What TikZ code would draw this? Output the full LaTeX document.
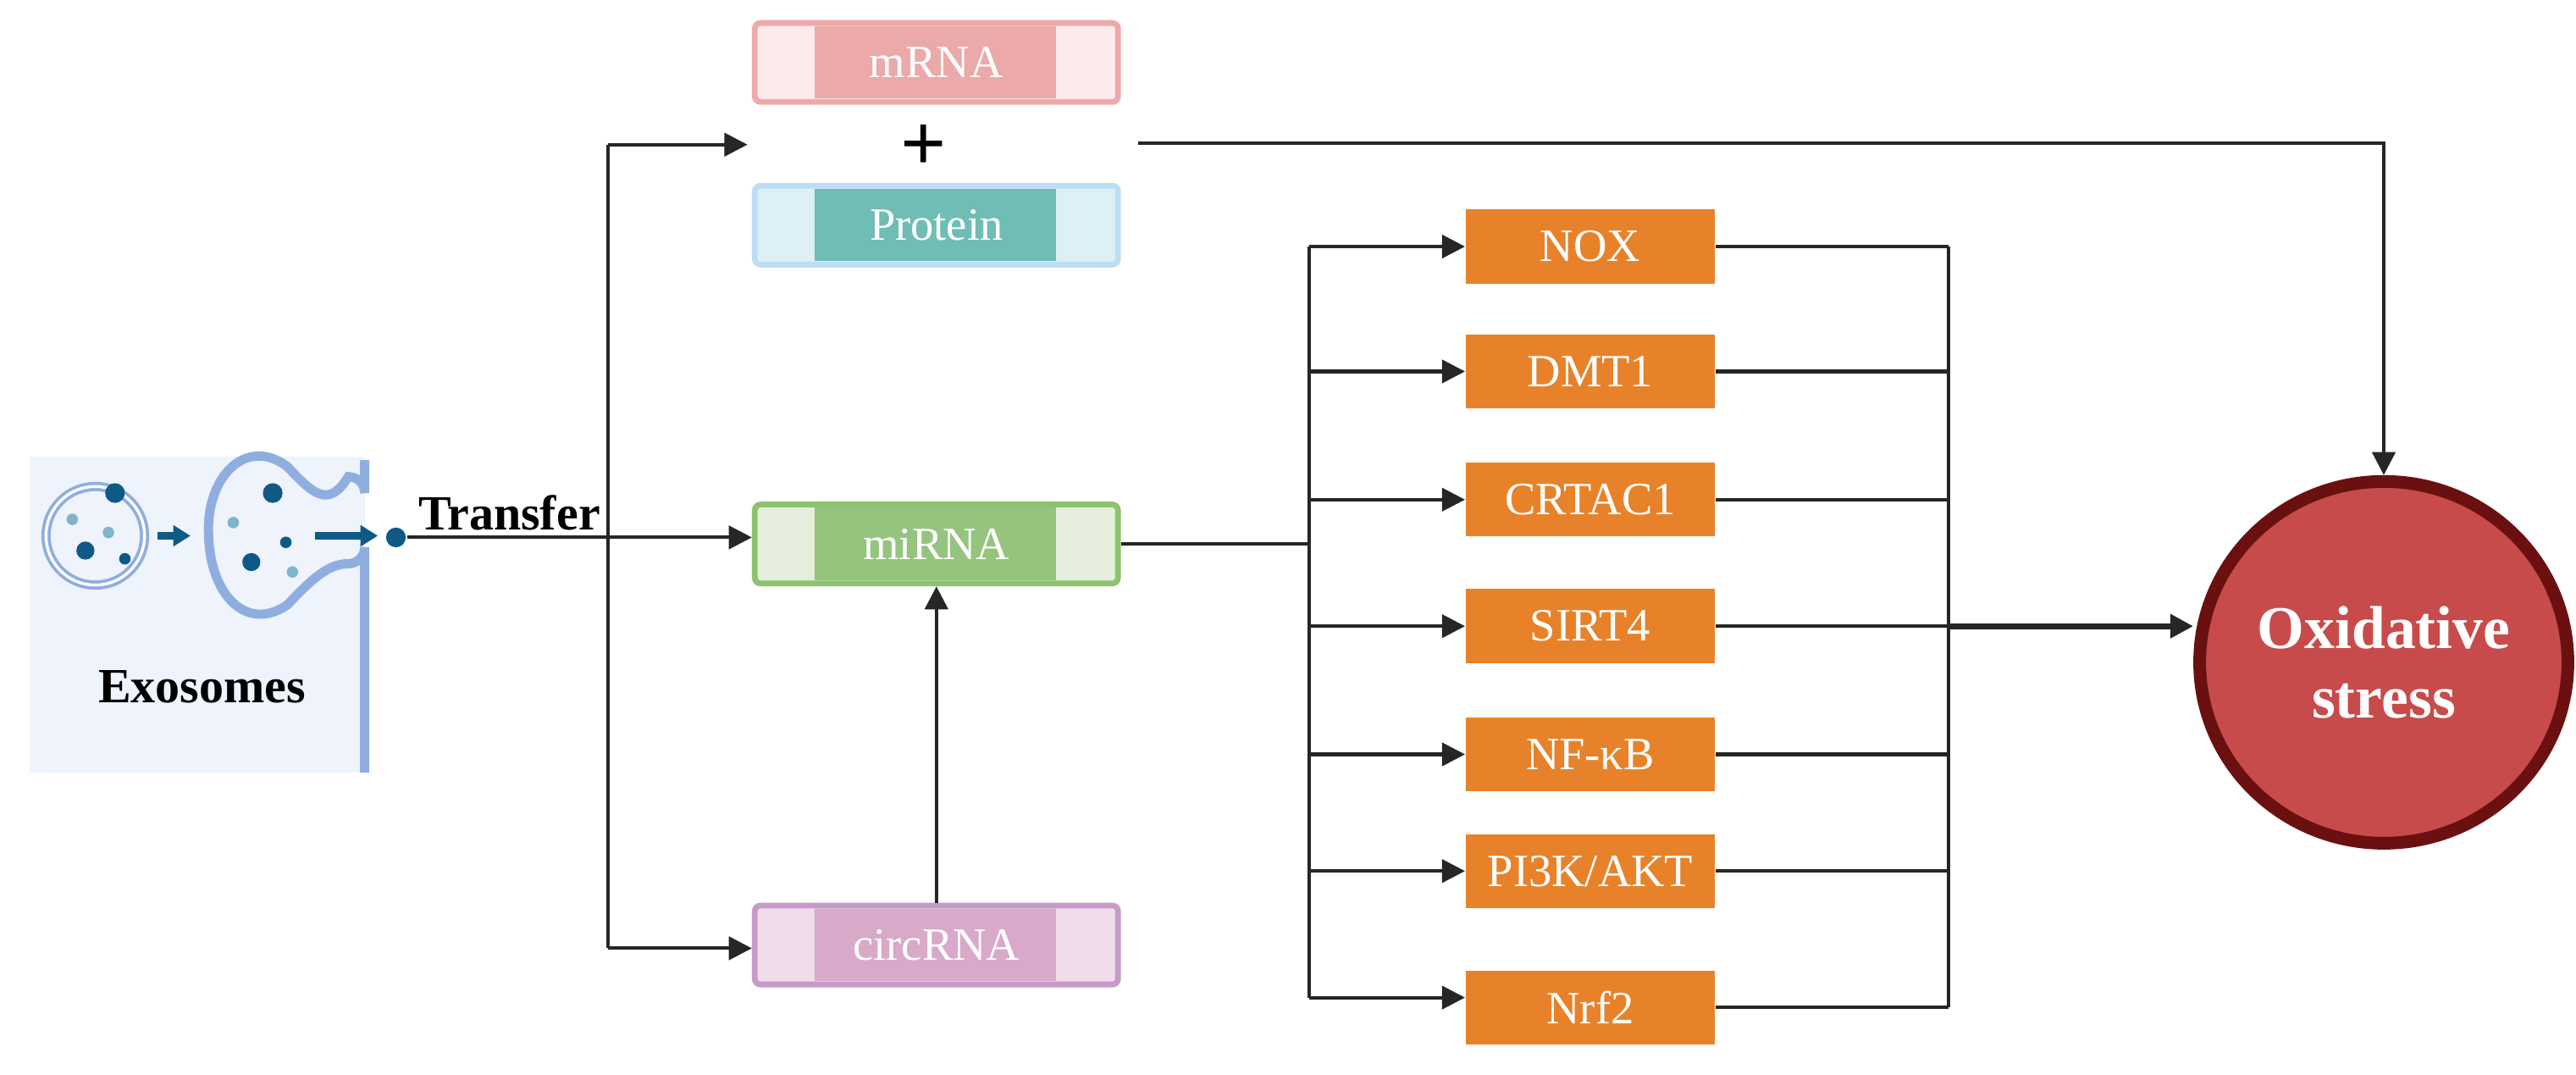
\documentclass[tikz,border=0pt]{standalone}
\usepackage{fontspec}
\setmainfont{Liberation Serif}
\usetikzlibrary{arrows.meta,shapes.geometric}
\definecolor{org}{HTML}{E8822A}
\definecolor{ox}{HTML}{C84B4B}
\definecolor{oxb}{HTML}{6B1010}
\definecolor{memb}{HTML}{8FAEE0}
\definecolor{dk}{HTML}{0E5A85}
\definecolor{lt}{HTML}{7FB5CC}
\definecolor{bgb}{HTML}{EEF3FC}
\begin{document}
\begin{tikzpicture}[x=0.01cm,y=-0.01cm,
 ln/.style={line width=0.6pt,draw=black!85},
 ar/.style={ln,-{Triangle[length=4pt,width=4pt]}},
 ob/.style={fill=org,minimum width=1.51cm,minimum height=0.45cm,inner sep=0,text=white,font=\fontsize{8}{9}\selectfont},
 lab/.style={font=\bfseries\fontsize{8.5}{10}\selectfont}]
\useasboundingbox (0,0) rectangle (1568,654);
% exosome icon
\fill[bgb] (18,278) rectangle (222,470);
\draw[memb,line width=1.6pt] (58,326) circle (30);
\draw[white,line width=0.5pt] (58,326) circle (30);
\fill[dk] (70,300) circle (6); \fill[dk] (52,335) circle (5.5); \fill[dk] (76,340) circle (3.5);
\fill[lt] (44,316) circle (3.5); \fill[lt] (66,324) circle (3.5);
\draw[dk,line width=1.2pt,-{Triangle[length=3pt,width=3.5pt]}] (96,326) -- (116,326);
\draw[memb,line width=1.6pt] (222,280) -- (222,300) arc (0:-90:10) .. controls (200,310) and (190,300) .. (175,284)
  .. controls (150,265) and (125,290) .. (127,326) .. controls (128,362) and (150,385) .. (175,368)
  .. controls (190,352) and (200,343) .. (212,343) arc (90:0:10) -- (222,470);
\fill[dk] (166,300) circle (6); \fill[dk] (153,342) circle (5.5); \fill[dk] (174,330) circle (3.5);
\fill[lt] (142,318) circle (3.5); \fill[lt] (178,348) circle (3.5);
\draw[dk,line width=1.2pt,-{Triangle[length=3pt,width=3.5pt]}] (192,326) -- (230,326);
\node[fill=dk,circle,inner sep=0,minimum size=0.12cm] (dot) at (241,327) {};
\node[lab] (tr) at (310,312) {Transfer};
\node[lab] (exo) at (123,418) {Exosomes};
% RNA boxes
\newcommand{\rbox}[6]{%
 \node[draw=#4,fill=#3,line width=1pt,rounded corners=1pt,minimum width=2.21cm,minimum height=0.48cm,inner sep=0] (#1) at (570,#2) {};
 \fill[#5] (496,#2-22) rectangle (643,#2+22);
 \node[text=white,font=\fontsize{8}{9}\selectfont] at (#1) {#6};}
\definecolor{c1}{HTML}{FDEBEC}\definecolor{c2}{HTML}{EEA9AA}\definecolor{c3}{HTML}{EBA9AA}
\definecolor{p1}{HTML}{DDF0F5}\definecolor{p2}{HTML}{BEDDF5}\definecolor{p3}{HTML}{6FBDB5}
\definecolor{g1}{HTML}{E5EEDD}\definecolor{g2}{HTML}{8CC46E}\definecolor{g3}{HTML}{94C47D}
\definecolor{q1}{HTML}{F0DCEB}\definecolor{q2}{HTML}{C79BC7}\definecolor{q3}{HTML}{D8A9C9}
\rbox{mrna}{38}{c1}{c2}{c3}{mRNA}
\rbox{prot}{137}{p1}{p2}{p3}{Protein}
\rbox{mirna}{331}{g1}{g2}{g3}{miRNA}
\rbox{circ}{575}{q1}{q2}{q3}{circRNA}
\node[font=\bfseries\fontsize{14}{14}\selectfont] (plus) at (562,90) {+};
\coordinate (pl) at (455,88);
\coordinate (pr) at (693,87);
% ellipse
\node[draw=oxb,fill=ox,line width=2.2pt,ellipse,minimum width=2.24cm,minimum height=2.2cm,inner sep=0,text=white,
 font=\bfseries\fontsize{10.5}{12}\selectfont,align=center] (ox) at (1451,403) {Oxidative\\stress};
% connectors
\coordinate (j1) at (370,327);
\coordinate (jt) at (370,88);
\coordinate (jb) at (370,577);
\draw[ln] (dot) -- (j1);
\draw[ar] (j1) -- (mirna.west|-j1);
\draw[ln] (jt) -- (jb);
\draw[ar] (jt) -- (pl);
\draw[ar] (jb) -- (circ.west|-jb);
\draw[ar] (circ.north) -- (mirna.south);
\coordinate (cr) at (1451,87);
\draw[ar] (pr) -- (cr) -- (ox.north);
\coordinate (b1) at (797,331);
\draw[ln] (mirna.east) -- (b1);
\coordinate (bt) at (797,150); \coordinate (bb) at (797,607);
\draw[ln] (bt) -- (bb);
\coordinate (rt) at (1186,150); \coordinate (rb) at (1186,613);
\draw[ln] (rt) -- (rb);
\foreach \n/\t/\y/\yy in {nox/NOX/150/150,dmt/DMT1/226/226,crt/CRTAC1/304/304,sirt/SIRT4/381/381,nfk/NF-κB/459/459,pi/{PI3K/AKT}/530/530,nrf/Nrf2/613/607}{
 \node[ob] (\n) at (968,\y) {\t};
 \coordinate (t\n) at (797,\yy);
 \coordinate (r\n) at (1186,\y);
 \draw[ar] (t\n) -- (\n.west|-t\n);
 \draw[ln] (\n.east) -- (r\n);}
\draw[ar,line width=1pt] (rsirt) -- (ox.west|-rsirt);
\end{tikzpicture}
\end{document}
